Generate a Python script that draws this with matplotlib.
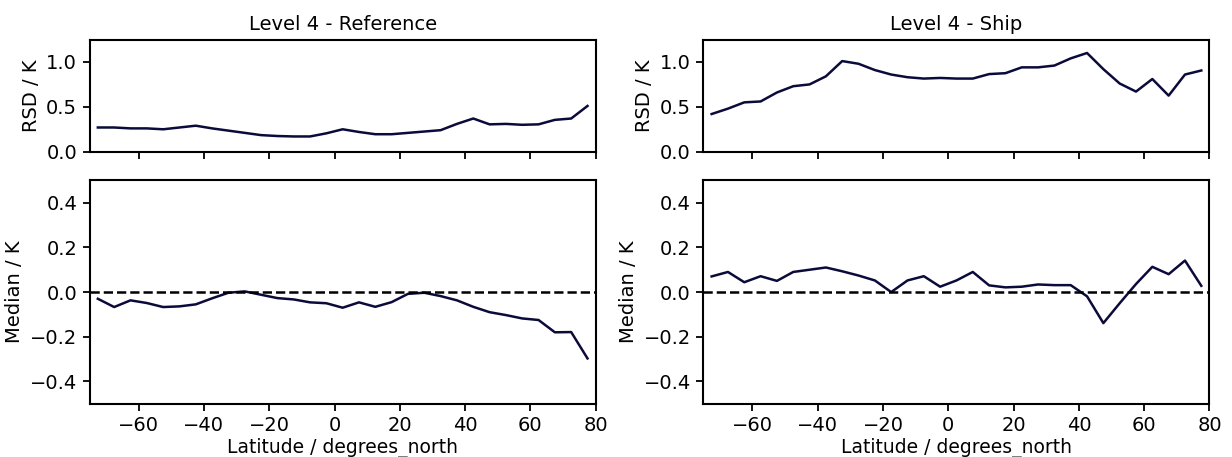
import numpy as np
import matplotlib
matplotlib.use("Agg")
import matplotlib.pyplot as plt

# Latitude band centres (degrees north)
latitude = np.arange(-72.5, 80, 5.0)

# Robust standard deviation per latitude band
rsd_reference = [0.27, 0.27, 0.26, 0.26, 0.25, 0.27, 0.29, 0.26, 0.235, 0.21,
                 0.185, 0.175, 0.17, 0.17, 0.205, 0.25, 0.22, 0.195, 0.195, 0.21,
                 0.225, 0.24, 0.31, 0.37, 0.305, 0.31, 0.30, 0.305, 0.355, 0.37,
                 0.51]
rsd_ship = [0.42, 0.48, 0.55, 0.56, 0.66, 0.73, 0.75, 0.84, 1.01, 0.98,
            0.91, 0.86, 0.83, 0.815, 0.822, 0.815, 0.815, 0.865, 0.875, 0.94,
            0.94, 0.96, 1.04, 1.10, 0.92, 0.76, 0.67, 0.81, 0.625, 0.86,
            0.905]

# Median difference per latitude band
median_reference = [-0.03, -0.067, -0.037, -0.049, -0.067, -0.064, -0.055, -0.028,
                    -0.003, 0.003, -0.012, -0.027, -0.033, -0.046, -0.05, -0.07,
                    -0.046, -0.066, -0.045, -0.008, -0.003, -0.018, -0.037, -0.066,
                    -0.09, -0.103, -0.118, -0.125, -0.18, -0.179, -0.297]
median_ship = [0.07, 0.09, 0.044, 0.071, 0.05, 0.09, 0.10, 0.11, 0.093, 0.074,
               0.052, 0.0, 0.052, 0.071, 0.024, 0.052, 0.09, 0.03, 0.021, 0.024,
               0.034, 0.031, 0.031, -0.019, -0.139, -0.05, 0.036, 0.113, 0.08,
               0.141, 0.028]

titles = ["Level 4 - Reference", "Level 4 - Ship"]
line_color = "#0b0b3b"

plt.rcParams["font.family"] = "DejaVu Sans"
plt.rcParams["font.size"] = 14

fig = plt.figure(figsize=(12.32, 4.57), dpi=100)

lefts = [0.0728, 0.571]
width = 0.4107
top_box = (0.668, 0.2455)
bot_box = (0.1164, 0.489)

for col, (title, rsd, med) in enumerate(zip(titles, [rsd_reference, rsd_ship],
                                            [median_reference, median_ship])):
    ax_top = fig.add_axes([lefts[col], top_box[0], width, top_box[1]])
    ax_bot = fig.add_axes([lefts[col], bot_box[0], width, bot_box[1]], sharex=ax_top)

    ax_top.plot(latitude, rsd, color=line_color, lw=1.8)
    ax_top.set_ylim(0, 1.25)
    ax_top.set_yticks([0.0, 0.5, 1.0])
    ax_top.set_ylabel("RSD / K")
    ax_top.set_title(title, fontsize=14, pad=7)
    ax_top.tick_params(labelbottom=False)

    ax_bot.plot(latitude, med, color=line_color, lw=1.8)
    ax_bot.axhline(0, color="black", ls="--", lw=1.8)
    ax_bot.set_ylim(-0.5, 0.5)
    ax_bot.set_yticks([-0.4, -0.2, 0.0, 0.2, 0.4])
    ax_bot.set_ylabel("Median / K")
    ax_bot.set_xlabel("Latitude / degrees_north", fontsize=13.5, labelpad=2)
    ax_bot.set_xlim(-75, 80)
    ax_bot.set_xticks([-60, -40, -20, 0, 20, 40, 60, 80])

    for ax in (ax_top, ax_bot):
        for s in ax.spines.values():
            s.set_linewidth(1.5)
        ax.tick_params(width=1.3, length=5, pad=4)

fig.savefig("out.png", dpi=100)
